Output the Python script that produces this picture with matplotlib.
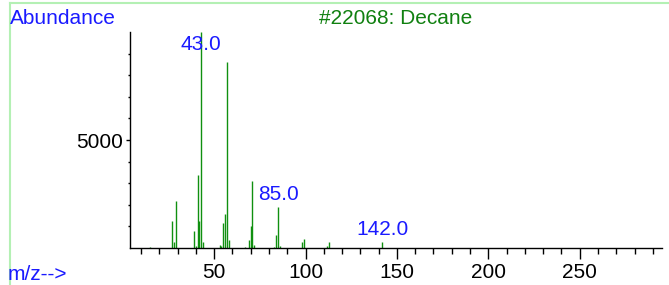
import matplotlib
matplotlib.use("Agg")
import matplotlib.pyplot as plt
from matplotlib.lines import Line2D
from matplotlib.ticker import MultipleLocator, FixedLocator

plt.rcParams['font.family'] = ['Liberation Sans', 'DejaVu Sans']

# Data: m/z and abundance
mz = [15, 27, 28, 29, 39, 40, 41, 42, 43, 44, 53, 54, 55, 56, 57, 58,
      67, 69, 70, 71, 72, 83, 84, 85, 86, 98, 99, 112, 113, 142]
abundance = [40, 1230, 260, 2155, 770, 100, 3390, 1260, 10000, 300, 150, 80,
             1180, 1585, 8630, 385, 50, 350, 1030, 3125, 120, 60, 615, 1910,
             80, 300, 415, 105, 260, 290]
peak_labels_mz = [43, 85, 142]
peak_label_text = ["43.0", "85.0", "142.0"]
peak_label_y = [9400, 2465, 846]
title = "#22068: Decane"

W, H = 669, 285
fig = plt.figure(figsize=(W / 100, H / 100), dpi=100)
ax = fig.add_axes([130 / W, 37 / H, 532 / W, 216 / H])

ax.vlines(mz, 0, abundance, colors='#109010', linewidth=1.0)

ax.set_xlim(4, 295)
ax.set_ylim(0, 10000)

for s in ['top', 'right']:
    ax.spines[s].set_visible(False)
for s in ['left', 'bottom']:
    ax.spines[s].set_color('black')
    ax.spines[s].set_linewidth(1.0)

ax.xaxis.set_major_locator(FixedLocator([50, 100, 150, 200, 250]))
ax.xaxis.set_minor_locator(FixedLocator([v for v in range(10, 295, 10) if v % 50]))
ax.yaxis.set_major_locator(FixedLocator([5000]))
ax.yaxis.set_minor_locator(FixedLocator([v for v in range(1000, 10000, 1000) if v != 5000]))

ax.tick_params(axis='x', which='major', length=8, width=1, pad=3, labelsize=15, direction='out')
ax.tick_params(axis='x', which='minor', length=4, width=1, direction='out')
ax.tick_params(axis='y', which='major', length=3, width=1, pad=2, labelsize=15, direction='out')
ax.tick_params(axis='y', which='minor', length=1.5, width=1, direction='out')

for x, t, y in zip(peak_labels_mz, peak_label_text, peak_label_y):
    ax.text(x, y, t, color='#1a1aff', fontsize=15, ha='center', va='center')

fig.text(10 / W, 1 - 18 / H, "Abundance", color='#1a1aff', fontsize=15, ha='left', va='center')
fig.text(8 / W, 1 - 274 / H, "m/z-->", color='#1a1aff', fontsize=15, ha='left', va='center')
fig.text(396 / W, 1 - 18 / H, title, color='#108010', fontsize=15, ha='center', va='center')

# light green window frame
fig.add_artist(Line2D([9.5 / W, 9.5 / W], [0, 1 - 3 / H], color='#b4f0b4', linewidth=1.5, transform=fig.transFigure))
fig.add_artist(Line2D([9.5 / W, 1], [1 - 3 / H, 1 - 3 / H], color='#b4f0b4', linewidth=1.5, transform=fig.transFigure))

fig.savefig("out.png", dpi=100)
